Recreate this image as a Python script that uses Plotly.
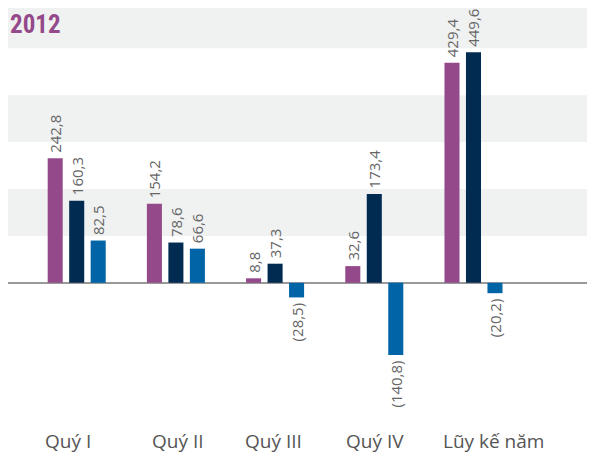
import plotly.graph_objects as go

# Dữ liệu lợi nhuận theo quý (2012)
categories = ["Quý I", "Quý II", "Quý III", "Quý IV", "Lũy kế năm"]
series_a = [242.8, 154.2, 8.8, 32.6, 429.4]
series_b = [160.3, 78.6, 37.3, 173.4, 449.6]
series_c = [82.5, 66.6, -28.5, -140.8, -20.2]

colors = ["#944a8a", "#022b52", "#0064a6"]

# độ lệch nhãn trục x so với tâm nhóm (đơn vị danh mục)
label_shift = [-0.088, 0.026, -0.021, 0.012, 0.197]


def fmt(v):
    s = f"{abs(v):.1f}".replace(".", ",")
    # thin space giữ khoảng cách giữa nhãn và cột
    return f"({s})\u2009" if v < 0 else f"\u2009{s}"


fig = go.Figure()
for vals, col in zip([series_a, series_b, series_c], colors):
    fig.add_trace(go.Bar(
        x=categories,
        y=vals,
        marker=dict(color=col, line=dict(width=0)),
        text=[fmt(v) for v in vals],
        textposition="outside",
        textangle=-90,
        constraintext="none",
        cliponaxis=False,
        textfont=dict(family="Open Sans", size=15, color="#666666"),
        hoverinfo="skip",
    ))

# dải nền xám xen kẽ
band = 91.5
shapes = []
for k in (1, 3, 5):
    shapes.append(dict(
        type="rect", xref="paper", yref="y",
        x0=0, x1=1, y0=band * k, y1=band * (k + 1),
        fillcolor="#f0f1f1", line=dict(width=0), layer="below",
    ))

annotations = [dict(
    text="2012", xref="paper", yref="paper",
    x=0, y=1 - 17 / 412, xanchor="left", yanchor="middle",
    showarrow=False,
    font=dict(family="Roboto Condensed, DejaVu Sans Condensed", size=25,
              weight=700, color="#944a8a"),
)]
for i, (name, dx) in enumerate(zip(categories, label_shift)):
    annotations.append(dict(
        text=name, xref="x", yref="paper",
        x=i + dx, y=1 - 433 / 412, xanchor="center", yanchor="middle",
        showarrow=False,
        font=dict(family="Open Sans", size=19, color="#555555"),
    ))

fig.update_layout(
    width=587,
    height=448,
    margin=dict(l=0, r=0, t=0, b=36),
    paper_bgcolor="white",
    plot_bgcolor="rgba(0,0,0,0)",
    showlegend=False,
    barmode="group",
    bargap=0.35,
    bargroupgap=0.30,
    shapes=shapes,
    annotations=annotations,
    font=dict(family="Open Sans", color="#555555"),
)
fig.update_xaxes(
    type="category",
    range=[-0.6925, 5.225],
    showgrid=False, showline=False, ticks="", showticklabels=False,
)
fig.update_yaxes(
    range=[-267.6, 536.1],
    showgrid=False, showticklabels=False, showline=False,
    zeroline=True, zerolinecolor="#999999", zerolinewidth=2,
)

fig.write_html("out.html")
